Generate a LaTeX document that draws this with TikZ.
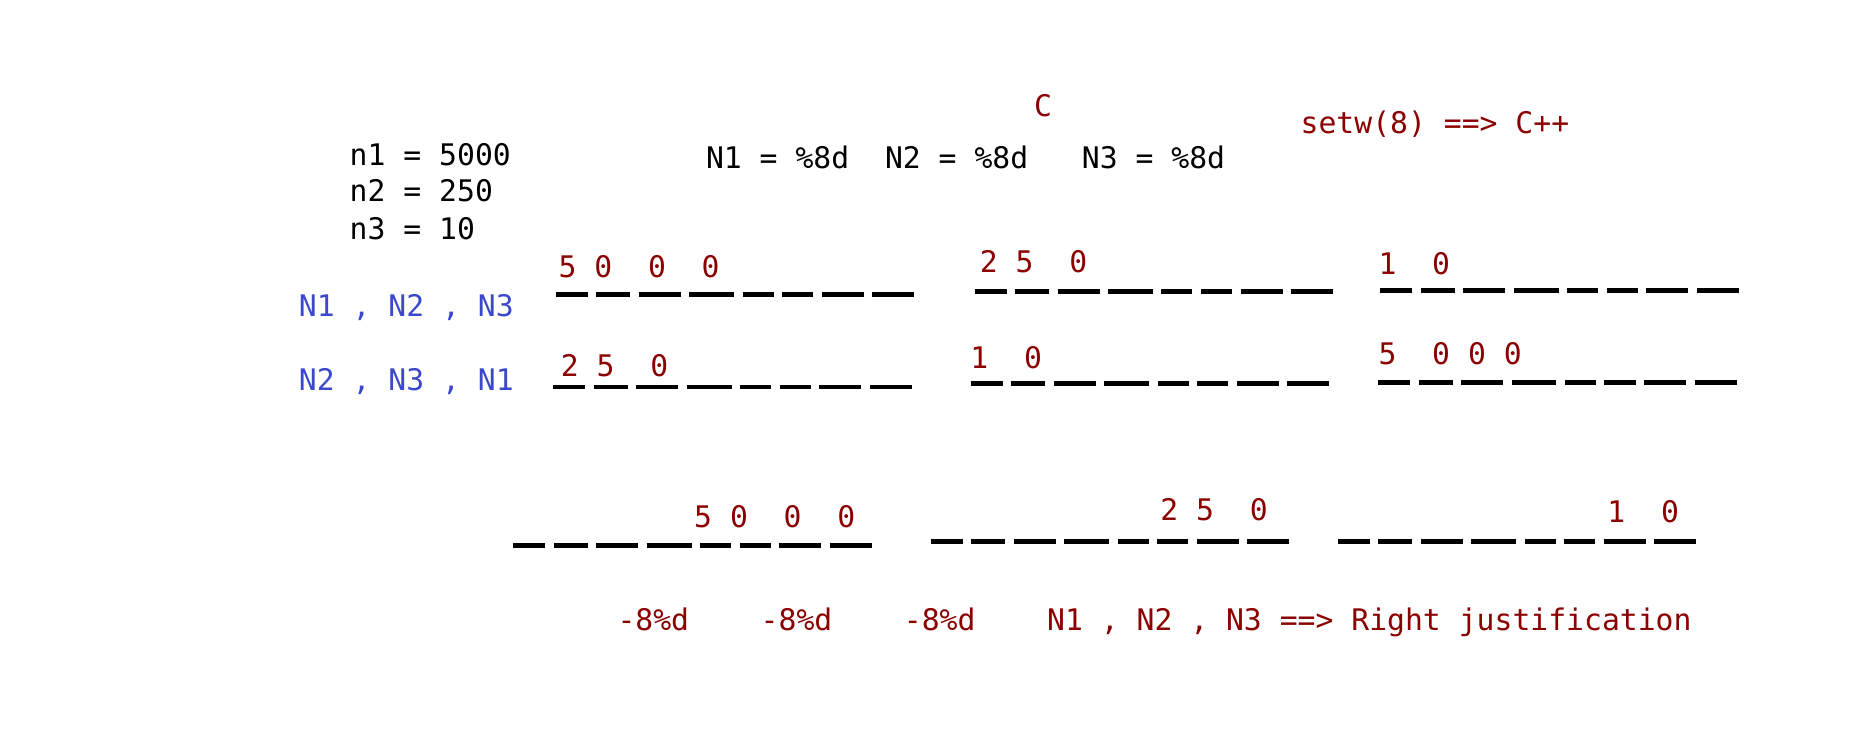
\documentclass[tikz,border=0pt]{standalone}
\usepackage{fontspec}
\setmonofont{DejaVu Sans Mono}
\definecolor{darkred}{RGB}{139,0,0}
\definecolor{nblue}{RGB}{59,72,204}

\begin{document}
\begin{tikzpicture}[
x=0.5pt, y=-0.5pt,
txt/.style={inner sep=0pt, anchor=base west, font=\fontsize{12.6}{15}\selectfont\ttfamily},
val/.style={txt, text=darkred},
arg/.style={txt, text=nblue},
slot/.style={line width=2.1pt, dash pattern=on 13.55pt off 3.6pt on 14.4pt off 3.6pt on 17.8pt off 3.6pt on 19.05pt off 3.6pt on 13.15pt off 3.6pt on 13.15pt off 3.6pt on 17.8pt off 3.6pt on 17.8pt off 20pt}
]
\useasboundingbox (0,0) rectangle (1568,630);

% header
\node[val] (clang) at (876,99) {C};
\node[val] (cpp) at (1102,113) {setw(8)~==>~C++};
\node[txt] (fmt) at (598,143) {N1~=~\%8d~~N2~=~\%8d~~~N3~=~\%8d};
\node[txt] (n1) at (296,140) {n1~=~5000};
\node[txt] (n2) at (296,171) {n2~=~250};
\node[txt] (n3) at (296,203) {n3~=~10};

% argument orders
\node[arg] (ordA) at (253,268) {N1~,~N2~,~N3};
\node[arg] (ordB) at (253,331) {N2~,~N3~,~N1};

% slots, row 1
\coordinate (a1) at (471,250); \coordinate (a1e) at (775,250);
\coordinate (a2) at (826,247); \coordinate (a2e) at (1130,247);
\coordinate (a3) at (1170,246); \coordinate (a3e) at (1474,246);
\draw[slot] (a1) -- (a1e);
\draw[slot] (a2) -- (a2e);
\draw[slot] (a3) -- (a3e);
\node[val] (vA1) at (473,235) {5~0~~0~~0};
\node[val] (vA2) at (830,231) {2~5~~0};
\node[val] (vA3) at (1168,233) {1~~0};

% slots, row 2
\coordinate (b1) at (469,328); \coordinate (b1e) at (773,328);
\coordinate (b2) at (823,325); \coordinate (b2e) at (1127,325);
\coordinate (b3) at (1168,324); \coordinate (b3e) at (1472,324);
\draw[slot] (b1) -- (b1e);
\draw[slot] (b2) -- (b2e);
\draw[slot] (b3) -- (b3e);
\node[val] (vB1) at (475,319) {2~5~~0};
\node[val] (vB2) at (822,312) {1~~0};
\node[val] (vB3) at (1168,309) {5~~0~0~0};

% slots, right justified
\coordinate (c1) at (435,462); \coordinate (c1e) at (739,462);
\coordinate (c2) at (789,459); \coordinate (c2e) at (1093,459);
\coordinate (c3) at (1134,459); \coordinate (c3e) at (1438,459);
\draw[slot] (c1) -- (c1e);
\draw[slot] (c2) -- (c2e);
\draw[slot] (c3) -- (c3e);
\node[val] (vC1) at (588,447) {5~0~~0~~0};
\node[val] (vC2) at (983,441) {2~5~~0};
\node[val] (vC3) at (1362,443) {1~~0};

\node[val] (note) at (523,534) {-8\%d~~~~-8\%d~~~~-8\%d~~~~N1~,~N2~,~N3~==>~Right~justification};
\end{tikzpicture}
\end{document}
